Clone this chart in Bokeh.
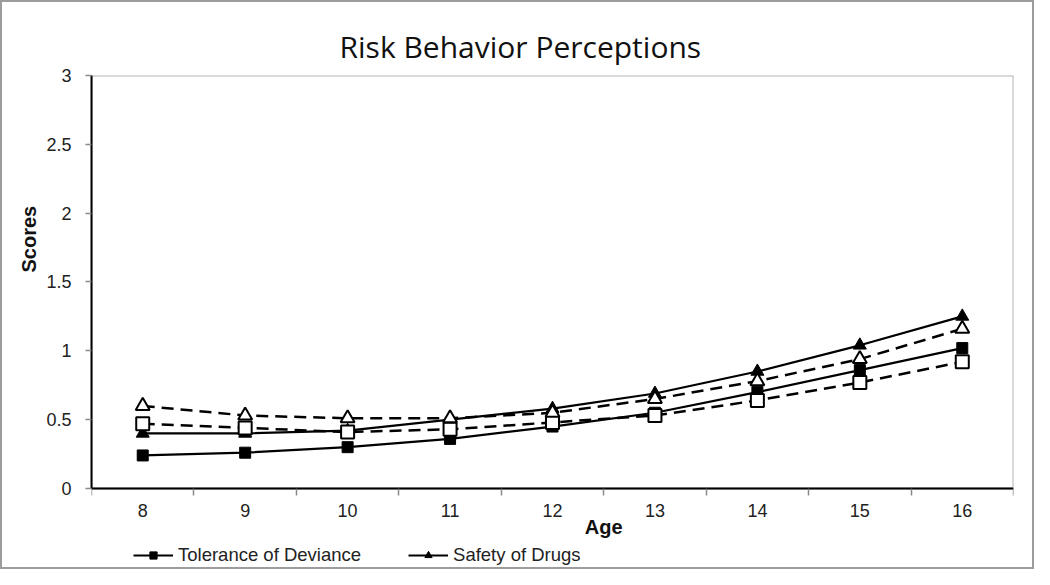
from bokeh.plotting import figure
from bokeh.models import (Range1d, FixedTicker, Title, Legend, LegendItem, Label, BoxAnnotation)
from bokeh.embed import file_html
from bokeh.resources import INLINE

# ---- data ----
ages = [8, 9, 10, 11, 12, 13, 14, 15, 16]
tolerance_solid = [0.24, 0.26, 0.30, 0.36, 0.45, 0.55, 0.70, 0.86, 1.02]
safety_solid = [0.40, 0.40, 0.42, 0.50, 0.58, 0.69, 0.85, 1.04, 1.25]
tolerance_dashed = [0.47, 0.44, 0.41, 0.43, 0.48, 0.53, 0.64, 0.77, 0.92]
safety_dashed = [0.60, 0.53, 0.51, 0.51, 0.55, 0.65, 0.78, 0.94, 1.16]
y_ticks = [0, 0.5, 1, 1.5, 2, 2.5, 3]
y_tick_labels = ["0", "0.5", "1", "1.5", "2", "2.5", "3"]
x_tick_labels = [str(a) for a in ages]
title_text = "Risk Behavior Perceptions"
x_title = "Age"
y_title = "Scores"
legend_labels = ["Tolerance of Deviance", "Safety of Drugs"]

FONT = "Liberation Sans"
Y_MIN, Y_MAX = 0, 3
X_LO, X_HI = ages[0] - 0.5, ages[-1] + 0.5
# frame reaches below the x axis so that the axis title and legend can sit there
Y_FRAME_BOTTOM = -0.574

p = figure(frame_width=922, frame_height=492, output_backend="svg", toolbar_location=None,
           x_range=Range1d(X_LO, X_HI), y_range=Range1d(Y_FRAME_BOTTOM, Y_MAX),
           min_border_left=89, min_border_right=19, min_border_top=73, min_border_bottom=0,
           styles={"border": "2px solid #9c9c9c"})
p.background_fill_color = "white"
p.border_fill_color = "white"
p.outline_line_color = None
p.xgrid.visible = False
p.ygrid.visible = False

# main title
p.title.text = title_text
p.title.align = "left"
p.title.offset = 248
p.title.standoff = 17
p.title.text_font = "Open Sans"
p.title.text_font_size = "30px"
p.title.text_font_style = "normal"
p.title.text_color = "#111111"

# plot box (top and right edges; left/bottom are the axes)
p.add_layout(BoxAnnotation(left=X_LO, right=X_HI, bottom=Y_MIN, top=Y_MAX,
                           fill_alpha=0, line_color="black", line_width=2))

# x axis at y=0: labels at ages, tick marks between categories
xa = p.xaxis[0]
xa.fixed_location = Y_MIN
xa.bounds = (X_LO, X_HI)
xa.ticker = FixedTicker(ticks=ages, minor_ticks=[a - 0.5 for a in ages] + [ages[-1] + 0.5])
xa.major_label_overrides = {a: l for a, l in zip(ages, x_tick_labels)}
xa.major_tick_line_color = None
xa.major_tick_out = 0
xa.major_tick_in = 0
xa.minor_tick_line_color = "#8a8a8a"
xa.minor_tick_line_width = 1.5
xa.minor_tick_out = 7
xa.minor_tick_in = 0
xa.axis_line_color = "black"
xa.axis_line_width = 2
xa.major_label_standoff = 9
xa.major_label_text_font = FONT
xa.major_label_text_font_size = "18px"
xa.major_label_text_color = "#222222"

ya = p.yaxis[0]
ya.bounds = (Y_MIN, Y_MAX)
ya.ticker = FixedTicker(ticks=y_ticks, minor_ticks=[])
ya.major_label_overrides = {t: l for t, l in zip(y_ticks, y_tick_labels)}
ya.major_tick_line_color = "#8a8a8a"
ya.major_tick_line_width = 1.5
ya.major_tick_out = 6
ya.major_tick_in = 0
ya.minor_tick_line_color = None
ya.axis_line_color = "black"
ya.axis_line_width = 2
ya.major_label_standoff = 14
ya.major_label_text_font = FONT
ya.major_label_text_font_size = "18px"
ya.major_label_text_color = "#222222"

# ---- series ----
dash = "12 7"
r_td_line = p.line(ages, tolerance_dashed, line_color="black", line_width=2.5, line_dash=dash)
r_sd_line = p.line(ages, safety_dashed, line_color="black", line_width=2.5, line_dash=dash)
r_ts_line = p.line(ages, tolerance_solid, line_color="black", line_width=2.2)
r_ss_line = p.line(ages, safety_solid, line_color="black", line_width=2.2)

r_ts_pts = p.scatter(ages, tolerance_solid, marker="square", size=11,
                     fill_color="black", line_color="black")
r_ss_pts = p.scatter(ages, safety_solid, marker="triangle", size=13,
                     fill_color="black", line_color="black")
r_td_pts = p.scatter(ages, tolerance_dashed, marker="square", size=13,
                     fill_color="white", line_color="black", line_width=2)
r_sd_pts = p.scatter(ages, safety_dashed, marker="triangle", size=14,
                     fill_color="white", line_color="black", line_width=2)

# ---- axis titles ----
p.add_layout(Title(text=y_title, align="left", offset=295, standoff=8,
                   text_font=FONT, text_font_size="20px", text_font_style="bold",
                   text_color="#111111"), "left")
p.add_layout(Label(x=12.5, y=-0.283, text=x_title, text_align="center",
                   text_baseline="middle", text_font=FONT, text_font_size="20px",
                   text_font_style="bold", text_color="#111111"))

legend = Legend(items=[
    LegendItem(label=legend_labels[0], renderers=[r_ts_line, r_ts_pts]),
    LegendItem(label=legend_labels[1], renderers=[r_ss_line, r_ss_pts]),
], location=(42, 1), orientation="horizontal")
legend.padding = 0
legend.margin = 0
legend.spacing = 47
legend.glyph_width = 40
legend.glyph_height = 18
legend.label_height = 18
legend.label_standoff = 5
legend.label_text_font = FONT
legend.label_text_font_size = "18.5px"
legend.label_text_color = "#222222"
legend.border_line_color = None
legend.background_fill_alpha = 0
p.add_layout(legend)

open("out.html", "w").write(file_html(p, INLINE))
